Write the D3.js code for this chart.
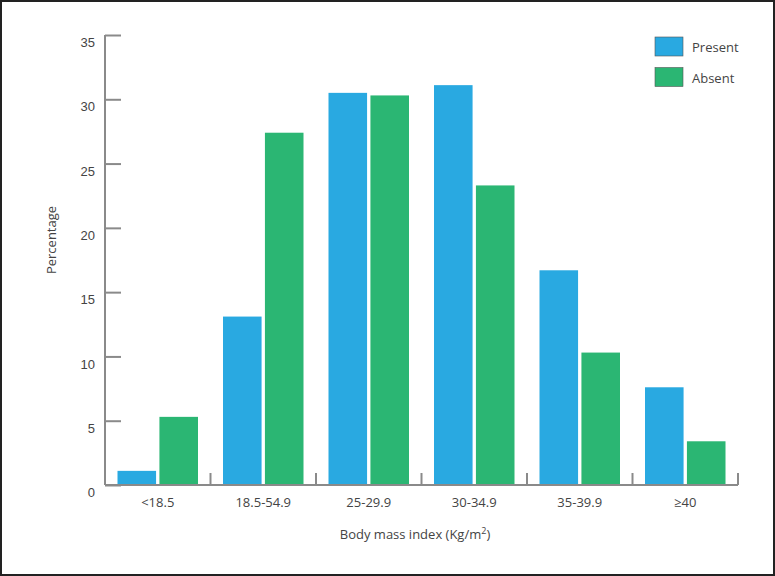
<!DOCTYPE html>
<html>
<head>
<meta charset="utf-8">
<script src="https://cdn.jsdelivr.net/npm/d3@7"></script>
<style>
  body { margin: 0; background: #fff; }
  svg { display: block; font-family: "Open Sans", "DejaVu Sans", sans-serif; }
</style>
</head>
<body>
<svg id="chart" width="775" height="576"></svg>
<script>
var categories = ['<18.5', '18.5-54.9', '25-29.9', '30-34.9', '35-39.9', '\u226540']
var seriesNames = ['Present', 'Absent']
var present = [1.1, 13.1, 30.5, 31.1, 16.7, 7.6]
var absent  = [5.3, 27.4, 30.3, 23.3, 10.3, 3.4]
var yTicks  = [0, 5, 10, 15, 20, 25, 30, 35]
var colors  = ['#29a9e1', '#2bb673']

var svg = d3.select('#chart')
var margin = { top: 35, right: 37, bottom: 91, left: 105 },
    width  = 775 - margin.left - margin.right,
    height = 576 - margin.top - margin.bottom

// frame around the whole figure
svg.append('rect')
   .attr('x', 1).attr('y', 1)
   .attr('width', 773).attr('height', 574)
   .attr('fill', 'none')
   .attr('stroke', '#222')
   .attr('stroke-width', 2)

var g = svg.append('g')
   .attr('transform', 'translate(' + margin.left + ',' + margin.top + ')')

var x = d3.scaleBand().domain(categories).range([0, width]).paddingInner(0).paddingOuter(0)
var inner = d3.scaleBand().domain(seriesNames).range([12.5, x.bandwidth() - 12.5]).paddingInner(0.08)
var y = d3.scaleLinear().domain([0, 35]).range([height, 0])

var rows = categories.map(function (c, i) {
  return { cat: c, values: [present[i], absent[i]] }
})

// bars
var groups = g.selectAll('.grp').data(rows).enter().append('g')
   .attr('transform', function (d) { return 'translate(' + x(d.cat) + ',0)' })

groups.selectAll('rect')
   .data(function (d) { return d.values.map(function (v, k) { return { k: k, v: v } }) })
   .enter().append('rect')
   .attr('x', function (d) { return inner(seriesNames[d.k]) })
   .attr('width', inner.bandwidth())
   .attr('y', function (d) { return y(d.v) })
   .attr('height', function (d) { return height - y(d.v) })
   .attr('fill', function (d) { return colors[d.k] })

var axisColor = '#8a8a8a'
var textColor = '#444'

// y axis, ticks pointing inward
var yAxis = g.append('g')
   .call(d3.axisRight(y).tickValues(yTicks).tickSize(16).tickFormat(d3.format('d')))
yAxis.select('.domain').remove()
yAxis.selectAll('.tick line').attr('stroke', axisColor).attr('stroke-width', 2)
yAxis.selectAll('.tick text')
   .attr('x', -10).attr('dy', '0.9em')
   .attr('text-anchor', 'end')
   .attr('fill', textColor)
   .style('font-size', '13px')
g.append('line')
   .attr('x1', 0).attr('x2', 0).attr('y1', 0).attr('y2', height)
   .attr('stroke', axisColor).attr('stroke-width', 2)

// x axis, ticks at category boundaries pointing up
g.append('line')
   .attr('x1', 0).attr('x2', width).attr('y1', height).attr('y2', height)
   .attr('stroke', axisColor).attr('stroke-width', 2)
var bounds = categories.map(function (c) { return x(c) + x.bandwidth() }).slice(0)
g.selectAll('.xtick').data(bounds).enter().append('line')
   .attr('x1', function (d) { return d }).attr('x2', function (d) { return d })
   .attr('y1', height).attr('y2', height - 12)
   .attr('stroke', axisColor).attr('stroke-width', 2)

g.selectAll('.xlabel').data(categories).enter().append('text')
   .attr('x', function (d) { return x(d) + x.bandwidth() / 2 })
   .attr('y', height + 22)
   .attr('text-anchor', 'middle')
   .attr('fill', textColor)
   .style('font-size', '13px')
   .text(function (d) { return d })

// axis titles
var xt = svg.append('text')
   .attr('x', 415).attr('y', 539)
   .attr('text-anchor', 'middle')
   .attr('fill', textColor)
   .style('font-size', '13px')
xt.append('tspan').text('Body mass index (Kg/m')
xt.append('tspan').attr('dy', -5).style('font-size', '9px').text('2')
xt.append('tspan').attr('dy', 5).text(')')

svg.append('text')
   .attr('transform', 'translate(56,240) rotate(-90)')
   .attr('text-anchor', 'middle')
   .attr('fill', textColor)
   .style('font-size', '13px')
   .text('Percentage')

// legend
var legend = svg.append('g').attr('transform', 'translate(655,37)')
seriesNames.forEach(function (name, i) {
  legend.append('rect')
     .attr('x', 0).attr('y', i * 30.5)
     .attr('width', 28).attr('height', 19)
     .attr('fill', colors[i])
     .attr('stroke', '#555').attr('stroke-width', 0.6)
  legend.append('text')
     .attr('x', 37).attr('y', i * 30.5 + 15)
     .attr('fill', textColor)
     .style('font-size', '13px')
     .text(name)
})
</script>
</body>
</html>
